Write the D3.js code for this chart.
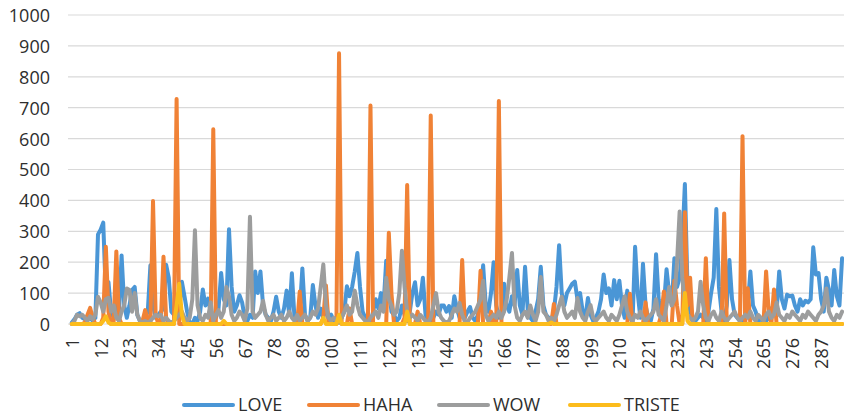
<!DOCTYPE html>
<html><head><meta charset="utf-8">
<script src="https://cdn.jsdelivr.net/npm/d3@7"></script>
<style>body{margin:0;background:#fff}svg{display:block}text{font-family:"Open Sans",sans-serif;fill:#2e2e2e}</style>
</head><body><svg id="c" width="844" height="418"></svg>
<script>
const seriesNames = ["LOVE","HAHA","WOW","TRISTE"];
const seriesColors = ["#4a96d6","#f08236","#9c9d9d","#fcbc1c"];
const yTicks = [0,100,200,300,400,500,600,700,800,900,1000];

const love = [
5,15,30,35,20,15,25,20,10,20,
290,305,328,90,135,40,20,60,30,222,
60,20,60,110,120,30,10,5,20,40,
190,60,20,30,40,50,192,150,40,30,
20,40,137,90,40,5,0,20,10,40,
112,60,82,40,10,20,50,165,80,60,
307,120,40,60,93,70,20,10,30,20,
170,100,170,60,30,20,10,40,88,40,
20,50,108,30,164,20,10,40,180,30,
10,20,126,60,20,50,20,60,20,30,
10,10,5,20,40,122,90,120,170,230,
120,40,20,10,5,40,80,50,100,60,
205,120,40,30,10,20,60,30,10,40,
100,135,60,80,150,30,10,0,20,40,
30,60,60,40,58,20,90,50,20,30,
20,40,55,20,10,30,80,190,60,40,
100,200,60,20,30,130,60,40,90,60,
175,60,30,185,50,20,10,40,80,185,
60,30,20,10,40,120,255,100,60,100,
115,130,137,80,100,40,20,84,30,10,
20,40,80,160,100,115,60,142,80,140,
60,20,108,40,0,250,100,20,195,60,
20,10,50,226,80,20,60,177,100,60,
213,120,150,260,453,120,40,20,10,20,
30,20,10,40,100,150,372,120,40,10,
60,207,80,30,20,10,0,20,60,170,
60,40,10,20,0,10,20,50,60,40,
170,80,50,95,90,92,60,40,80,60,
75,70,80,248,160,165,80,40,150,110,
60,175,90,60,213];

const haha = [
0,0,0,0,0,5,30,52,20,0,
0,0,20,250,40,0,10,235,20,0,
0,0,0,0,0,0,0,10,45,10,
0,398,30,0,10,218,20,0,0,0,
728,0,0,0,0,0,0,0,0,0,
0,0,0,0,630,0,0,0,0,0,
0,0,0,0,0,0,0,0,0,0,
0,0,0,0,0,0,0,0,0,0,
0,0,0,0,0,0,0,105,0,0,
0,0,0,0,0,0,20,125,0,0,
0,0,876,0,0,0,50,0,0,0,
0,0,0,0,707,0,0,0,0,0,
0,295,100,0,0,0,0,20,450,0,
0,0,40,0,0,0,0,675,0,0,
0,0,0,0,0,0,0,0,0,207,
0,0,0,0,0,0,172,0,0,0,
40,0,0,722,0,0,0,0,0,0,
0,0,0,0,0,0,0,0,0,0,
0,0,0,0,65,0,0,0,0,0,
0,0,0,0,0,0,0,0,0,0,
0,0,0,0,0,0,0,0,0,0,
0,0,0,98,0,0,0,0,0,70,
0,0,0,0,0,30,105,0,0,0,
140,60,0,0,362,60,150,0,0,0,
0,0,213,0,0,0,0,0,0,358,
0,0,0,0,0,0,608,0,116,0,
0,0,0,0,0,170,40,0,112,0,
0,0,0,0,0,0,0,0,0,0,
0,0,0,0,0,0,0,0,0,0,
0,0,0,0,0];

const wow = [
0,10,30,25,30,20,10,25,15,30,
88,70,40,80,85,40,60,20,10,40,
60,115,110,40,100,30,10,5,10,5,
10,20,30,25,30,10,20,10,5,10,
20,30,40,20,10,20,80,303,60,20,
10,30,20,70,10,30,45,20,40,120,
90,30,10,20,40,30,10,50,347,40,
20,30,40,75,30,10,20,30,10,20,
30,10,20,40,20,10,30,10,20,30,
10,20,40,30,50,120,193,60,20,10,
20,10,5,20,40,60,30,40,108,60,
30,20,10,5,20,30,40,20,60,40,
150,80,60,30,40,100,237,120,40,20,
30,20,10,30,20,10,5,20,60,100,
40,20,10,5,10,30,50,40,68,30,
10,5,20,30,40,60,80,140,30,10,
20,30,20,40,20,40,80,150,230,60,
20,10,30,40,20,60,30,10,40,152,
40,30,10,20,10,30,60,88,40,20,
30,40,20,84,40,20,10,40,61,20,
10,20,30,40,20,10,30,20,10,30,
60,90,40,20,10,30,20,40,20,10,
20,30,40,80,30,20,10,60,120,60,
80,200,364,150,60,30,20,10,20,40,
137,60,20,10,30,40,20,10,40,20,
10,20,30,40,20,10,20,30,20,40,
20,10,30,20,10,30,40,20,30,70,
30,20,10,30,20,40,30,20,10,30,
20,40,30,20,10,30,40,60,115,40,
20,10,30,20,40];

const triste = new Array(295).fill(0);
// non-zero TRISTE values (category -> value)
const tristeBumps = [[13,10],[14,25],[15,5],[41,60],[42,130],[43,30],[59,10],[97,20],[103,30],[129,40],[184,5],[235,100],[236,10]];
tristeBumps.forEach(([c,v])=>{triste[c-1]=v;});

const categories = d3.range(1, love.length+1);
const xLabels = categories.filter(c => (c-1)%11===0);
const data = [love, haha, wow, triste];

const svg = d3.select("#c");
const x = d3.scalePoint().domain(categories).range([71.8, 71.8+294*2.62]);
const y = d3.scaleLinear().domain([0,1000]).range([324,15]);
const plotL = 68, plotR = 844;

// gridlines
svg.append("g").selectAll("line").data(yTicks).join("line")
  .attr("x1",plotL).attr("x2",plotR).attr("y1",d=>y(d)).attr("y2",d=>y(d))
  .attr("stroke","#d9d9d9").attr("stroke-width",1.2);

// y labels
const yAxis = d3.axisLeft(y).tickValues(yTicks).tickFormat(d3.format("d")).tickSize(0).tickPadding(0);
const gy = svg.append("g").attr("transform","translate(50,0)").call(yAxis);
gy.select(".domain").remove();
gy.selectAll("text").style("font-size","18px").attr("fill","#2e2e2e").attr("dy","0.36em");

// x labels
const xAxis = d3.axisBottom(x).tickValues(xLabels).tickFormat(d3.format("d")).tickSize(0).tickPadding(0);
const gx = svg.append("g").attr("transform","translate(0,338)").call(xAxis);
gx.select(".domain").remove();
gx.selectAll("text").style("font-size","18px").attr("fill","#2e2e2e")
  .attr("text-anchor","end").attr("transform","rotate(-90)")
  .attr("x",0).attr("y",0).attr("dy","0.36em");

// lines
const line = d3.line().x((d,i)=>x(categories[i])).y(d=>y(d));
data.forEach((s,k)=>{
  svg.append("path").datum(s).attr("d",line).attr("fill","none")
    .attr("stroke",seriesColors[k]).attr("stroke-width",4)
    .attr("stroke-linejoin","round").attr("stroke-linecap","round");
});

// legend
const legX = [184, 309, 439, 570];
const lg = svg.append("g");
seriesNames.forEach((n,k)=>{
  lg.append("line").attr("x1",legX[k]).attr("x2",legX[k]+49).attr("y1",405).attr("y2",405)
    .attr("stroke",seriesColors[k]).attr("stroke-width",4).attr("stroke-linecap","round");
  lg.append("text").attr("x",legX[k]+54).attr("y",405).attr("dy","0.36em")
    .style("font-size","18px").text(n);
});
</script></body></html>
